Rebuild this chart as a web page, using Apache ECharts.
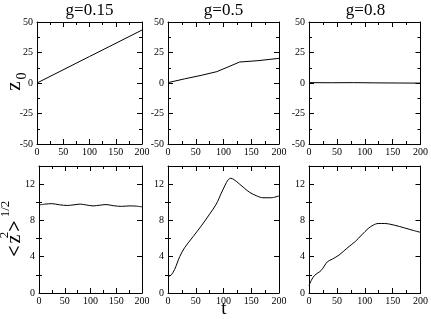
<!DOCTYPE html>
<html><head><meta charset="utf-8">
<script src="https://cdn.jsdelivr.net/npm/echarts@6/dist/echarts.min.js"></script>
<style>html,body{margin:0;padding:0;background:#fff}#c{width:431px;height:319px}</style>
</head><body><div id="c"></div>
<script>
const titles = ['g=0.15', 'g=0.5', 'g=0.8'];
const xTicks = [0, 50, 100, 150, 200];
const topYTicks = [-50, -25, 0, 25, 50];
const botYTicks = [0, 4, 8, 12];
const botYMinor = [2, 6, 10];
const xLabel = 't';

const z0_g015 = [[0, 0], [100, 21.7], [200, 43.4]];
const z0_g05 = [[0, 0.3], [30, 3.4], [60, 6.3], [88, 9.3], [110, 13.5], [129, 17.2], [162, 18.3], [200, 20.2]];
const z0_g08 = [[0, 0.3], [40, 0.2], [80, 0.3], [120, 0.1], [160, 0.0], [200, -0.1]];
const rms_g015 = [[0, 9.7], [12, 9.8], [25, 9.85], [40, 9.72], [55, 9.65], [68, 9.72], [80, 9.8], [92, 9.7], [105, 9.6], [118, 9.68], [130, 9.75], [145, 9.62], [160, 9.55], [175, 9.6], [188, 9.58], [200, 9.5]];
const rms_g05 = [[0, 1.8], [6, 2.0], [12, 2.6], [21, 4.0], [30, 5.0], [45, 6.2], [60, 7.4], [75, 8.7], [87, 9.8], [96, 11.0], [103, 11.9], [108, 12.45], [113, 12.65], [119, 12.5], [129, 12.0], [147, 11.1], [160, 10.7], [171, 10.5], [186, 10.5], [200, 10.7]];
const rms_g08 = [[0, 0.82], [4, 1.38], [10, 1.94], [22, 2.5], [33, 3.44], [42, 3.74], [54, 4.19], [68, 4.93], [83, 5.68], [95, 6.43], [106, 7.1], [115, 7.48], [124, 7.66], [136, 7.66], [153, 7.48], [171, 7.18], [188, 6.88], [200, 6.69]];

const panels = [z0_g015, z0_g05, z0_g08, rms_g015, rms_g05, rms_g08];
const grids = [
  {left: 37, top: 22, width: 105, height: 122},
  {left: 168, top: 22, width: 111, height: 122},
  {left: 309, top: 22, width: 113, height: 122},
  {left: 39, top: 166, width: 103, height: 127},
  {left: 168, top: 166, width: 111, height: 127},
  {left: 309, top: 166, width: 114, height: 127}
];
const FONT = 'Liberation Serif';
const lbl = {fontFamily: FONT, fontSize: 10, color: '#000'};
const axLine = {show: true, onZero: false, lineStyle: {color: '#000', width: 1}};

const xAxis = [], yAxis = [], series = [];
grids.forEach((g, i) => {
  const xi = xAxis.length;
  ['bottom', 'top'].forEach((pos, k) => {
    xAxis.push({
      gridIndex: i, type: 'value', position: pos, min: xTicks[0], max: xTicks[xTicks.length - 1], interval: 50,
      axisLine: axLine, splitLine: {show: false},
      axisTick: {show: true, inside: true, length: 5, lineStyle: {color: '#000'}},
      minorTick: {show: true, splitNumber: 2, length: 3, lineStyle: {color: '#000'}},
      axisLabel: k === 0 ? Object.assign({margin: 3}, lbl) : {show: false}
    });
  });
  const yi = yAxis.length;
  if (i < 3) {
    ['left', 'right'].forEach((pos, k) => {
      yAxis.push({
        gridIndex: i, type: 'value', position: pos, min: topYTicks[0], max: topYTicks[topYTicks.length - 1], interval: 25,
        axisLine: axLine, splitLine: {show: false},
        axisTick: {show: true, inside: true, length: 5, lineStyle: {color: '#000'}},
        minorTick: {show: true, splitNumber: 2, length: 3, lineStyle: {color: '#000'}},
        axisLabel: k === 0 ? Object.assign({margin: 4}, lbl) : {show: false}
      });
    });
  } else {
    ['left', 'right'].forEach((pos, k) => {
      yAxis.push({
        gridIndex: i, type: 'value', position: pos, min: 0, max: 14,
        axisLine: axLine, splitLine: {show: false},
        axisTick: {show: true, inside: true, length: 5, customValues: botYTicks, lineStyle: {color: '#000'}},
        axisLabel: k === 0 ? Object.assign({margin: 4, customValues: botYTicks}, lbl) : {show: false}
      });
      yAxis.push({
        gridIndex: i, type: 'value', position: pos, min: 0, max: 14,
        axisLine: {show: false}, splitLine: {show: false},
        axisTick: {show: true, inside: true, length: 3, customValues: botYMinor, lineStyle: {color: '#000'}},
        axisLabel: {show: false}
      });
    });
  }
  series.push({
    type: 'line', xAxisIndex: xi, yAxisIndex: yi, data: panels[i],
    showSymbol: false, smooth: i >= 3 ? 0.3 : false,
    lineStyle: {color: '#000', width: 1}, silent: true
  });
});

const graphic = [];
titles.forEach((t, i) => {
  const g = grids[i];
  graphic.push({type: 'text', x: g.left + g.width / 2, y: 11,
    style: {text: t, font: '17px ' + FONT, fill: '#000', align: 'center', verticalAlign: 'middle'}});
});
graphic.push({type: 'text', x: 224, y: 309,
  style: {text: xLabel, font: '19px ' + FONT, fill: '#000', align: 'center', verticalAlign: 'middle'}});
// rotated y-axis names
graphic.push({type: 'group', x: 0, y: 83, rotation: Math.PI / 2, children: [
  {type: 'text', x: -3, y: 14, style: {text: 'z', font: '21px ' + FONT, fill: '#000', align: 'center', verticalAlign: 'middle'}},
  {type: 'text', x: 7, y: 22, style: {text: '0', font: '14px ' + FONT, fill: '#000', align: 'center', verticalAlign: 'middle'}}
]});
graphic.push({type: 'group', x: 0, y: 229, rotation: Math.PI / 2, children: [
  {type: 'text', x: -22, y: 16, style: {text: '<', font: 'bold 20px ' + FONT, fill: '#000', align: 'center', verticalAlign: 'middle'}},
  {type: 'text', x: -10, y: 15, style: {text: 'z', font: '20px ' + FONT, fill: '#000', align: 'center', verticalAlign: 'middle'}},
  {type: 'text', x: -6, y: 5, style: {text: '2', font: '13px ' + FONT, fill: '#000', align: 'center', verticalAlign: 'middle'}},
  {type: 'text', x: 3, y: 16, style: {text: '>', font: 'bold 20px ' + FONT, fill: '#000', align: 'center', verticalAlign: 'middle'}},
  {type: 'text', x: 20, y: 6, style: {text: '1/2', font: '13px ' + FONT, fill: '#000', align: 'center', verticalAlign: 'middle'}}
]});

const chart = echarts.init(document.getElementById('c'), null, {renderer: 'canvas'});
chart.setOption({animation: false, backgroundColor: '#fff', grid: grids, xAxis, yAxis, series, graphic});
</script></body></html>
